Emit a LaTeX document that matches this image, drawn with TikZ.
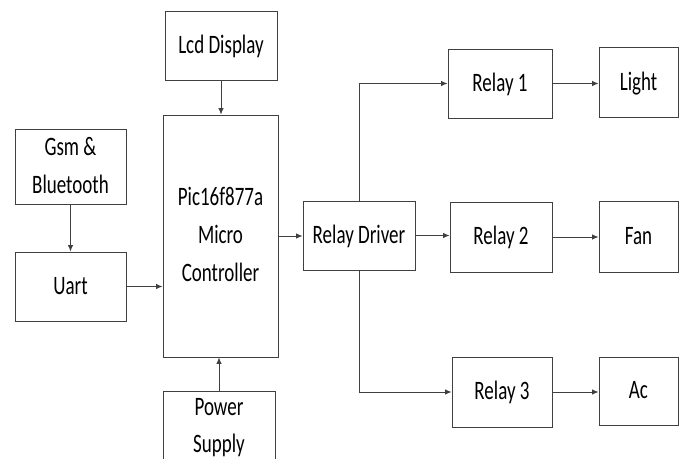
\documentclass[tikz,border=0pt]{standalone}
\usepackage{fontspec}
\setmainfont{Carlito}
\usepackage{graphicx}
\usetikzlibrary{arrows.meta}
\newcommand{\blocktext}[1]{\scalebox{1}[1.4]{\fontsize{19}{27}\selectfont\begin{tabular}{@{}c@{}}#1\end{tabular}}}
\definecolor{linegray}{HTML}{404040}
\tikzset{
  blk/.style={draw=linegray, line width=0.9pt, inner sep=0pt, fill=white, text=black},
  conn/.style={draw=linegray, line width=0.9pt, -{Latex[length=6.5pt,width=5.5pt]}}
}
\begin{document}
\begin{tikzpicture}[x=1pt,y=-1pt]
\useasboundingbox (0,0) rectangle (684,458);
\clip (0,0) rectangle (684,458);
\node[blk, minimum width=112pt, minimum height=69pt] (lcd) at (221,45.5) {\blocktext{Lcd Display}};
\node[blk, minimum width=115pt, minimum height=242pt] (pic) at (220.5,236) {\blocktext{Pic16f877a\\Micro\\Controller}};
\node[blk, minimum width=111pt, minimum height=70pt] (gsm) at (70.5,167) {\blocktext{Gsm \&\\Bluetooth}};
\node[blk, minimum width=111pt, minimum height=69pt] (uart) at (70.5,286.5) {\blocktext{Uart}};
\node[blk, minimum width=112pt, minimum height=74pt] (power) at (219,428) {};
\node (powertext) at (219,426.5) {\blocktext{Power\\Supply}};
\node[blk, minimum width=112pt, minimum height=69pt] (driver) at (359,235.5) {\blocktext{Relay Driver}};
\node[blk, minimum width=104pt, minimum height=69pt] (r1) at (500,83.5) {\blocktext{Relay 1}};
\node[blk, minimum width=102pt, minimum height=70pt] (r2) at (501,237) {\blocktext{Relay 2}};
\node[blk, minimum width=100pt, minimum height=70pt] (r3) at (502,392) {\blocktext{Relay 3}};
\node[blk, minimum width=79pt, minimum height=70pt] (light) at (638.5,82.5) {\blocktext{Light}};
\node[blk, minimum width=79pt, minimum height=71pt] (fan) at (638.5,236.5) {\blocktext{Fan}};
\node[blk, minimum width=79pt, minimum height=68pt] (ac) at (638.5,391) {\blocktext{Ac}};
\draw[conn] (lcd.south) -- (pic.north -| lcd.south);
\draw[conn] (gsm.south) -- (uart.north);
\draw[conn] (uart.east) -- (pic.west |- uart.east);
\draw[conn] (power.north) -- (pic.south -| power.north);
\draw[conn] (pic.east) -- (driver.west |- pic.east);
\draw[conn] (driver.east) -- (r2.west |- driver.east);
\draw[conn] (driver.north) |- (r1.west);
\draw[conn] (driver.south) |- (r3.west);
\draw[conn] (r1.east) -- (light.west |- r1.east);
\draw[conn] (r2.east) -- (fan.west |- r2.east);
\draw[conn] (r3.east) -- (ac.west |- r3.east);
\end{tikzpicture}
\end{document}
